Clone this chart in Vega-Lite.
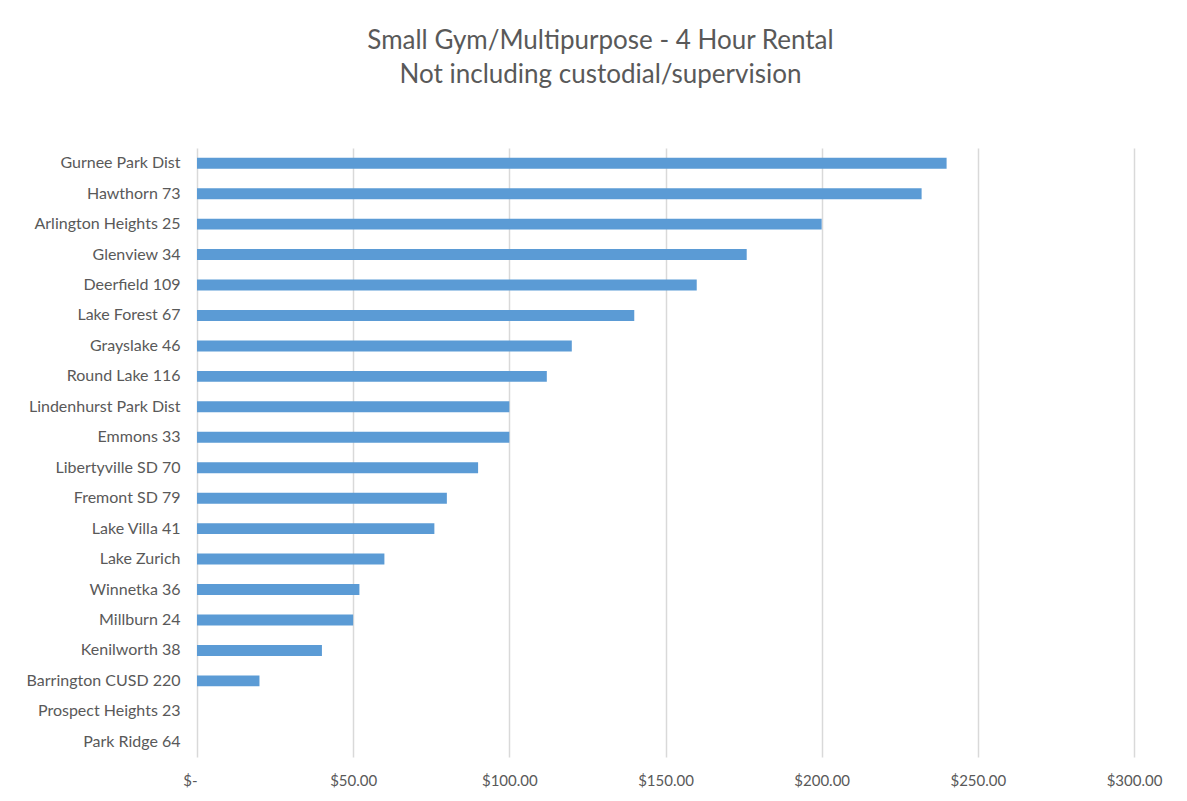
{
  "$schema": "https://vega.github.io/schema/vega-lite/v6.json",
  "width": 937,
  "height": 609,
  "autosize": "none",
  "padding": {"left": 197, "top": 148, "right": 53, "bottom": 44},
  "background": "white",
  "title": {
    "text": ["Small Gym/Multipurpose - 4 Hour Rental", "Not including custodial/supervision"],
    "font": "Lato",
    "fontSize": 26,
    "fontWeight": "normal",
    "color": "#595959",
    "lineHeight": 34,
    "anchor": "middle",
    "dx": -65,
    "offset": 60
  },
  "config": {
    "view": {"stroke": null},
    "font": "Lato"
  },
  "data": {
    "values": [
      {"site": "Gurnee Park Dist", "cost": 240},
      {"site": "Hawthorn 73", "cost": 232},
      {"site": "Arlington Heights 25", "cost": 200},
      {"site": "Glenview 34", "cost": 176},
      {"site": "Deerfield 109", "cost": 160},
      {"site": "Lake Forest 67", "cost": 140},
      {"site": "Grayslake 46", "cost": 120},
      {"site": "Round Lake 116", "cost": 112},
      {"site": "Lindenhurst Park Dist", "cost": 100},
      {"site": "Emmons 33", "cost": 100},
      {"site": "Libertyville SD 70", "cost": 90},
      {"site": "Fremont SD 79", "cost": 80},
      {"site": "Lake Villa 41", "cost": 76},
      {"site": "Lake Zurich", "cost": 60},
      {"site": "Winnetka 36", "cost": 52},
      {"site": "Millburn 24", "cost": 50},
      {"site": "Kenilworth 38", "cost": 40},
      {"site": "Barrington CUSD 220", "cost": 20},
      {"site": "Prospect Heights 23", "cost": 0},
      {"site": "Park Ridge 64", "cost": 0}
    ]
  },
  "mark": {"type": "bar", "color": "#5b9bd5"},
  "encoding": {
    "y": {
      "field": "site",
      "type": "nominal",
      "sort": null,
      "scale": {"paddingInner": 0.64, "paddingOuter": 0.32},
      "axis": {
        "title": null,
        "ticks": false,
        "domain": false,
        "labelPadding": 17,
        "labelFontSize": 16,
        "labelColor": "#595959",
        "labelFont": "Lato",
        "grid": false
      }
    },
    "x": {
      "field": "cost",
      "type": "quantitative",
      "scale": {"domain": [0, 300], "nice": false},
      "axis": {
        "title": null,
        "values": [0, 50, 100, 150, 200, 250, 300],
        "labelExpr": "datum.value == 0 ? '$-' : '$' + format(datum.value, '.2f')",
        "labelAlign": {"condition": {"test": "datum.value == 0", "value": "right"}, "value": "center"},
        "labelFlush": false,
        "ticks": false,
        "domain": false,
        "grid": true,
        "gridColor": "#d9d9d9",
        "gridWidth": 1.5,
        "labelPadding": 16,
        "labelFontSize": 15,
        "labelColor": "#595959",
        "labelFont": "Lato"
      }
    }
  }
}
